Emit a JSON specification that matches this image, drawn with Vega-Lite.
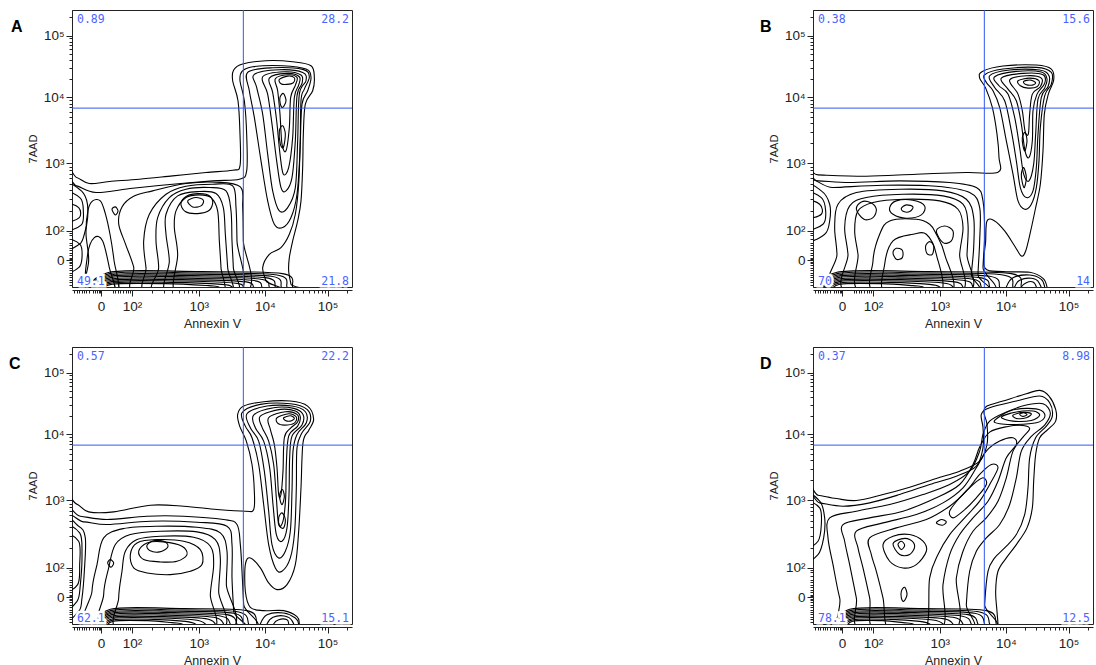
{
"$schema": "https://vega.github.io/schema/vega-lite/v6.json",
"padding": {"left": 8, "top": 9, "right": 0, "bottom": 0},
"config": {
  "view": {"stroke": "#222", "strokeWidth": 1},
  "axis": {"grid": false, "domainColor": "#222", "tickColor": "#222", "labelColor": "#222", "titleColor": "#222", "labelFont": "Liberation Sans", "titleFont": "Liberation Sans", "labelFontSize": 13.5, "titleFontWeight": "normal", "labelOverlap": false, "labelFlush": false},
  "title": {"font": "Liberation Sans", "fontSize": 16, "fontWeight": "bold", "color": "#000"},
  "text": {"font": "DejaVu Sans Mono", "fontSize": 11.5, "color": "#4a63ff"}
},
"datasets": {
"gates": [
 {"p":"A","gx":514,"gy":536,"UL":"0.89","UR":"28.2","LL":"49.1","LR":"21.8"},
 {"p":"B","gx":514,"gy":536,"UL":"0.38","UR":"15.6","LL":"70","LR":"14"},
 {"p":"C","gx":514,"gy":536,"UL":"0.57","UR":"22.2","LL":"62.1","LR":"15.1"},
 {"p":"D","gx":514,"gy":536,"UL":"0.37","UR":"8.98","LL":"78.1","LR":"12.5"}
],
"A": [
{"c":1,"x":-18,"y":330},{"c":1,"x":14,"y":328},{"c":1,"x":52,"y":310},{"c":1,"x":112,"y":316},{"c":1,"x":202,"y":323},{"c":1,"x":302,"y":333},{"c":1,"x":402,"y":343},{"c":1,"x":482,"y":350},{"c":1,"x":504,"y":363},{"c":1,"x":504,"y":458},{"c":1,"x":498,"y":558},{"c":1,"x":482,"y":618},{"c":1,"x":485,"y":650},{"c":1,"x":512,"y":668},{"c":1,"x":582,"y":678},{"c":1,"x":662,"y":675},{"c":1,"x":717,"y":663},{"c":1,"x":727,"y":628},{"c":1,"x":722,"y":588},{"c":1,"x":700,"y":548},{"c":1,"x":694,"y":458},{"c":1,"x":692,"y":358},{"c":1,"x":687,"y":258},{"c":1,"x":677,"y":198},{"c":1,"x":662,"y":138},{"c":1,"x":652,"y":88},{"c":1,"x":650,"y":48},{"c":1,"x":657,"y":8},{"c":1,"x":662,"y":-17},{"c":1,"x":-18,"y":-17},
{"c":2,"x":-18,"y":303},{"c":2,"x":14,"y":303},{"c":2,"x":72,"y":283},{"c":2,"x":182,"y":296},{"c":2,"x":302,"y":308},{"c":2,"x":422,"y":318},{"c":2,"x":502,"y":323},{"c":2,"x":524,"y":348},{"c":2,"x":524,"y":458},{"c":2,"x":517,"y":558},{"c":2,"x":504,"y":618},{"c":2,"x":510,"y":646},{"c":2,"x":542,"y":660},{"c":2,"x":632,"y":663},{"c":2,"x":702,"y":653},{"c":2,"x":717,"y":628},{"c":2,"x":707,"y":588},{"c":2,"x":690,"y":548},{"c":2,"x":685,"y":438},{"c":2,"x":680,"y":308},{"c":2,"x":670,"y":218},{"c":2,"x":652,"y":158},{"c":2,"x":627,"y":118},{"c":2,"x":592,"y":98},{"c":2,"x":572,"y":58},{"c":2,"x":582,"y":18},{"c":2,"x":592,"y":-17},{"c":2,"x":-18,"y":-17},
{"c":3,"x":527,"y":643},{"c":3,"x":602,"y":657},{"c":3,"x":692,"y":652},{"c":3,"x":712,"y":630},{"c":3,"x":697,"y":593},{"c":3,"x":687,"y":558},{"c":3,"x":684,"y":408},{"c":3,"x":675,"y":278},{"c":3,"x":657,"y":208},{"c":3,"x":632,"y":178},{"c":3,"x":607,"y":188},{"c":3,"x":587,"y":258},{"c":3,"x":567,"y":378},{"c":3,"x":547,"y":508},{"c":3,"x":532,"y":588},
{"c":4,"x":547,"y":637},{"c":4,"x":622,"y":651},{"c":4,"x":692,"y":643},{"c":4,"x":702,"y":618},{"c":4,"x":682,"y":578},{"c":4,"x":677,"y":438},{"c":4,"x":670,"y":298},{"c":4,"x":647,"y":238},{"c":4,"x":622,"y":228},{"c":4,"x":602,"y":288},{"c":4,"x":587,"y":398},{"c":4,"x":572,"y":518},{"c":4,"x":554,"y":598},
{"c":5,"x":572,"y":630},{"c":5,"x":637,"y":645},{"c":5,"x":687,"y":635},{"c":5,"x":690,"y":610},{"c":5,"x":675,"y":573},{"c":5,"x":670,"y":438},{"c":5,"x":660,"y":328},{"c":5,"x":642,"y":288},{"c":5,"x":627,"y":298},{"c":5,"x":614,"y":378},{"c":5,"x":600,"y":488},{"c":5,"x":587,"y":578},
{"c":6,"x":592,"y":626},{"c":6,"x":644,"y":640},{"c":6,"x":682,"y":630},{"c":6,"x":680,"y":605},{"c":6,"x":667,"y":568},{"c":6,"x":662,"y":448},{"c":6,"x":650,"y":358},{"c":6,"x":634,"y":338},{"c":6,"x":624,"y":398},{"c":6,"x":614,"y":498},{"c":6,"x":602,"y":583},
{"c":7,"x":610,"y":624},{"c":7,"x":647,"y":636},{"c":7,"x":675,"y":628},{"c":7,"x":670,"y":604},{"c":7,"x":656,"y":568},{"c":7,"x":652,"y":478},{"c":7,"x":642,"y":408},{"c":7,"x":630,"y":428},{"c":7,"x":624,"y":518},{"c":7,"x":617,"y":588},
{"c":8,"x":622,"y":622},{"c":8,"x":647,"y":632},{"c":8,"x":667,"y":627},{"c":8,"x":664,"y":612},{"c":8,"x":644,"y":607},{"c":8,"x":627,"y":609},
{"c":9,"x":622,"y":468},{"c":9,"x":632,"y":483},{"c":9,"x":640,"y":458},{"c":9,"x":634,"y":418},{"c":9,"x":625,"y":428},
{"c":10,"x":624,"y":568},{"c":10,"x":634,"y":580},{"c":10,"x":642,"y":558},{"c":10,"x":632,"y":538},{"c":10,"x":625,"y":548},
{"c":11,"x":312,"y":-22},{"c":11,"x":317,"y":98},{"c":11,"x":307,"y":178},{"c":11,"x":312,"y":228},{"c":11,"x":342,"y":268},{"c":11,"x":382,"y":276},{"c":11,"x":417,"y":268},{"c":11,"x":437,"y":228},{"c":11,"x":442,"y":138},{"c":11,"x":447,"y":58},{"c":11,"x":450,"y":-22},
{"c":12,"x":287,"y":-22},{"c":12,"x":292,"y":78},{"c":12,"x":282,"y":158},{"c":12,"x":282,"y":218},{"c":12,"x":317,"y":273},{"c":12,"x":382,"y":286},{"c":12,"x":432,"y":280},{"c":12,"x":454,"y":238},{"c":12,"x":460,"y":158},{"c":12,"x":467,"y":58},{"c":12,"x":472,"y":-22},
{"c":13,"x":252,"y":-22},{"c":13,"x":260,"y":58},{"c":13,"x":252,"y":138},{"c":13,"x":257,"y":208},{"c":13,"x":292,"y":268},{"c":13,"x":342,"y":293},{"c":13,"x":412,"y":298},{"c":13,"x":462,"y":288},{"c":13,"x":477,"y":228},{"c":13,"x":480,"y":138},{"c":13,"x":484,"y":58},{"c":13,"x":486,"y":-22},
{"c":14,"x":232,"y":-22},{"c":14,"x":222,"y":58},{"c":14,"x":215,"y":138},{"c":14,"x":232,"y":218},{"c":14,"x":282,"y":278},{"c":14,"x":342,"y":302},{"c":14,"x":422,"y":308},{"c":14,"x":482,"y":303},{"c":14,"x":492,"y":238},{"c":14,"x":495,"y":138},{"c":14,"x":498,"y":-22},
{"c":15,"x":200,"y":-22},{"c":15,"x":185,"y":60},{"c":15,"x":160,"y":130},{"c":15,"x":140,"y":190},{"c":15,"x":150,"y":240},{"c":15,"x":185,"y":272},{"c":15,"x":242,"y":288},{"c":15,"x":342,"y":310},{"c":15,"x":432,"y":314},{"c":15,"x":505,"y":300},{"c":15,"x":512,"y":238},{"c":15,"x":514,"y":138},{"c":15,"x":516,"y":-22},
{"c":16,"x":347,"y":258},{"c":16,"x":372,"y":268},{"c":16,"x":394,"y":260},{"c":16,"x":387,"y":243},{"c":16,"x":362,"y":240},
{"c":17,"x":327,"y":253},{"c":17,"x":352,"y":276},{"c":17,"x":402,"y":278},{"c":17,"x":422,"y":258},{"c":17,"x":412,"y":230},{"c":17,"x":377,"y":220},{"c":17,"x":340,"y":226},
{"c":18,"x":44,"y":-22},{"c":18,"x":47,"y":98},{"c":18,"x":67,"y":148},{"c":18,"x":92,"y":138},{"c":18,"x":112,"y":58},{"c":18,"x":127,"y":-22},
{"c":19,"x":120,"y":233},{"c":19,"x":130,"y":240},{"c":19,"x":138,"y":228},{"c":19,"x":130,"y":216},
{"c":20,"x":-18,"y":298},{"c":20,"x":22,"y":293},{"c":20,"x":44,"y":260},{"c":20,"x":47,"y":208},{"c":20,"x":37,"y":158},{"c":20,"x":22,"y":128},{"c":20,"x":-18,"y":128},
{"c":21,"x":-18,"y":278},{"c":21,"x":25,"y":266},{"c":21,"x":34,"y":228},{"c":21,"x":28,"y":186},{"c":21,"x":-18,"y":178},
{"c":22,"x":-18,"y":248},{"c":22,"x":20,"y":238},{"c":22,"x":22,"y":208},{"c":22,"x":-18,"y":198},
{"c":23,"x":-18,"y":138},{"c":23,"x":24,"y":128},{"c":23,"x":30,"y":88},{"c":23,"x":20,"y":58},{"c":23,"x":-18,"y":48},
{"c":29,"x":40,"y":-22},{"c":29,"x":50,"y":80},{"c":29,"x":42,"y":160},{"c":29,"x":48,"y":230},{"c":29,"x":62,"y":258},{"c":29,"x":85,"y":258},{"c":29,"x":100,"y":220},{"c":29,"x":114,"y":158},{"c":29,"x":126,"y":80},{"c":29,"x":136,"y":-22},
{"c":40,"x":112,"y":44},{"c":40,"x":387,"y":46},{"c":40,"x":632,"y":40},{"c":40,"x":662,"y":0},{"c":40,"x":662,"y":-17},{"c":40,"x":112,"y":-17},
{"c":41,"x":113,"y":40},{"c":41,"x":379,"y":42},{"c":41,"x":615,"y":36},{"c":41,"x":645,"y":0},{"c":41,"x":645,"y":-17},{"c":41,"x":113,"y":-17},
{"c":42,"x":114,"y":36},{"c":42,"x":371,"y":38},{"c":42,"x":598,"y":32},{"c":42,"x":628,"y":0},{"c":42,"x":628,"y":-17},{"c":42,"x":114,"y":-17},
{"c":43,"x":115,"y":32},{"c":43,"x":362,"y":34},{"c":43,"x":580,"y":28},{"c":43,"x":610,"y":0},{"c":43,"x":610,"y":-17},{"c":43,"x":115,"y":-17},
{"c":44,"x":116,"y":28},{"c":44,"x":354,"y":30},{"c":44,"x":562,"y":24},{"c":44,"x":592,"y":0},{"c":44,"x":592,"y":-17},{"c":44,"x":116,"y":-17},
{"c":45,"x":117,"y":24},{"c":45,"x":343,"y":26},{"c":45,"x":540,"y":20},{"c":45,"x":570,"y":0},{"c":45,"x":570,"y":-17},{"c":45,"x":117,"y":-17},
{"c":46,"x":118,"y":20},{"c":46,"x":331,"y":22},{"c":46,"x":515,"y":16},{"c":46,"x":545,"y":0},{"c":46,"x":545,"y":-17},{"c":46,"x":118,"y":-17},
{"c":47,"x":119,"y":16},{"c":47,"x":317,"y":18},{"c":47,"x":485,"y":12},{"c":47,"x":515,"y":0},{"c":47,"x":515,"y":-17},{"c":47,"x":119,"y":-17},
{"c":48,"x":120,"y":12},{"c":48,"x":300,"y":14},{"c":48,"x":450,"y":8},{"c":48,"x":480,"y":0},{"c":48,"x":480,"y":-17},{"c":48,"x":120,"y":-17},
{"c":49,"x":121,"y":8},{"c":49,"x":280,"y":10},{"c":49,"x":410,"y":4},{"c":49,"x":440,"y":0},{"c":49,"x":440,"y":-17},{"c":49,"x":121,"y":-17}
],
"B": [
{"c":1,"x":-20,"y":338},{"c":1,"x":15,"y":336},{"c":1,"x":160,"y":332},{"c":1,"x":310,"y":338},{"c":1,"x":460,"y":343},{"c":1,"x":555,"y":344},{"c":1,"x":558,"y":388},{"c":1,"x":552,"y":458},{"c":1,"x":538,"y":538},{"c":1,"x":518,"y":596},{"c":1,"x":500,"y":626},{"c":1,"x":508,"y":646},{"c":1,"x":570,"y":662},{"c":1,"x":670,"y":665},{"c":1,"x":715,"y":653},{"c":1,"x":722,"y":620},{"c":1,"x":706,"y":578},{"c":1,"x":694,"y":518},{"c":1,"x":690,"y":408},{"c":1,"x":682,"y":308},{"c":1,"x":668,"y":238},{"c":1,"x":653,"y":168},{"c":1,"x":638,"y":108},{"c":1,"x":625,"y":93},{"c":1,"x":605,"y":123},{"c":1,"x":575,"y":168},{"c":1,"x":545,"y":198},{"c":1,"x":522,"y":198},{"c":1,"x":518,"y":138},{"c":1,"x":515,"y":58},{"c":1,"x":570,"y":46},{"c":1,"x":650,"y":44},{"c":1,"x":690,"y":26},{"c":1,"x":702,"y":0},{"c":1,"x":702,"y":-22},{"c":1,"x":-20,"y":-22},
{"c":2,"x":515,"y":636},{"c":2,"x":570,"y":653},{"c":2,"x":670,"y":658},{"c":2,"x":715,"y":643},{"c":2,"x":715,"y":608},{"c":2,"x":695,"y":573},{"c":2,"x":682,"y":478},{"c":2,"x":678,"y":378},{"c":2,"x":670,"y":298},{"c":2,"x":655,"y":248},{"c":2,"x":635,"y":233},{"c":2,"x":615,"y":258},{"c":2,"x":600,"y":338},{"c":2,"x":580,"y":438},{"c":2,"x":560,"y":538},{"c":2,"x":540,"y":588},{"c":2,"x":520,"y":613},
{"c":3,"x":530,"y":633},{"c":3,"x":590,"y":650},{"c":3,"x":680,"y":650},{"c":3,"x":708,"y":633},{"c":3,"x":705,"y":600},{"c":3,"x":685,"y":568},{"c":3,"x":675,"y":458},{"c":3,"x":670,"y":358},{"c":3,"x":660,"y":288},{"c":3,"x":640,"y":268},{"c":3,"x":622,"y":298},{"c":3,"x":610,"y":378},{"c":3,"x":595,"y":468},{"c":3,"x":575,"y":558},{"c":3,"x":545,"y":598},
{"c":4,"x":545,"y":630},{"c":4,"x":610,"y":646},{"c":4,"x":685,"y":644},{"c":4,"x":702,"y":623},{"c":4,"x":695,"y":596},{"c":4,"x":675,"y":563},{"c":4,"x":668,"y":458},{"c":4,"x":662,"y":368},{"c":4,"x":648,"y":318},{"c":4,"x":632,"y":338},{"c":4,"x":620,"y":418},{"c":4,"x":605,"y":508},{"c":4,"x":585,"y":578},{"c":4,"x":558,"y":603},
{"c":5,"x":565,"y":626},{"c":5,"x":630,"y":640},{"c":5,"x":690,"y":636},{"c":5,"x":695,"y":610},{"c":5,"x":672,"y":578},{"c":5,"x":660,"y":528},{"c":5,"x":658,"y":438},{"c":5,"x":648,"y":388},{"c":5,"x":636,"y":408},{"c":5,"x":625,"y":488},{"c":5,"x":610,"y":558},{"c":5,"x":585,"y":593},
{"c":6,"x":590,"y":620},{"c":6,"x":640,"y":633},{"c":6,"x":685,"y":626},{"c":6,"x":682,"y":600},{"c":6,"x":658,"y":578},{"c":6,"x":650,"y":518},{"c":6,"x":646,"y":458},{"c":6,"x":636,"y":468},{"c":6,"x":628,"y":528},{"c":6,"x":615,"y":578},
{"c":7,"x":615,"y":618},{"c":7,"x":650,"y":626},{"c":7,"x":678,"y":618},{"c":7,"x":672,"y":600},{"c":7,"x":645,"y":596},{"c":7,"x":622,"y":603},
{"c":8,"x":632,"y":616},{"c":8,"x":653,"y":620},{"c":8,"x":668,"y":612},{"c":8,"x":658,"y":605},{"c":8,"x":638,"y":607},
{"c":9,"x":628,"y":448},{"c":9,"x":636,"y":463},{"c":9,"x":642,"y":438},{"c":9,"x":636,"y":408},{"c":9,"x":630,"y":423},
{"c":10,"x":625,"y":338},{"c":10,"x":632,"y":358},{"c":10,"x":640,"y":328},{"c":10,"x":634,"y":298},{"c":10,"x":628,"y":313},
{"c":11,"x":-20,"y":313},{"c":11,"x":15,"y":318},{"c":11,"x":110,"y":313},{"c":11,"x":260,"y":318},{"c":11,"x":410,"y":313},{"c":11,"x":490,"y":298},{"c":11,"x":510,"y":258},{"c":11,"x":515,"y":158},{"c":11,"x":510,"y":58},{"c":11,"x":510,"y":-22},{"c":11,"x":-20,"y":-22},
{"c":12,"x":-20,"y":298},{"c":12,"x":60,"y":298},{"c":12,"x":210,"y":305},{"c":12,"x":370,"y":302},{"c":12,"x":470,"y":283},{"c":12,"x":500,"y":238},{"c":12,"x":500,"y":138},{"c":12,"x":495,"y":38},{"c":12,"x":495,"y":-22},{"c":12,"x":-20,"y":-22},
{"c":13,"x":72,"y":-22},{"c":13,"x":72,"y":98},{"c":13,"x":65,"y":178},{"c":13,"x":75,"y":248},{"c":13,"x":130,"y":283},{"c":13,"x":260,"y":293},{"c":13,"x":390,"y":288},{"c":13,"x":460,"y":263},{"c":13,"x":482,"y":208},{"c":13,"x":482,"y":118},{"c":13,"x":475,"y":38},{"c":13,"x":472,"y":-22},
{"c":14,"x":110,"y":-22},{"c":14,"x":105,"y":98},{"c":14,"x":95,"y":178},{"c":14,"x":110,"y":243},{"c":14,"x":160,"y":268},{"c":14,"x":270,"y":278},{"c":14,"x":390,"y":273},{"c":14,"x":450,"y":248},{"c":14,"x":465,"y":188},{"c":14,"x":462,"y":98},{"c":14,"x":455,"y":-22},
{"c":15,"x":150,"y":-22},{"c":15,"x":135,"y":98},{"c":15,"x":125,"y":168},{"c":15,"x":135,"y":228},{"c":15,"x":180,"y":253},{"c":15,"x":270,"y":263},{"c":15,"x":380,"y":258},{"c":15,"x":435,"y":233},{"c":15,"x":450,"y":178},{"c":15,"x":440,"y":98},{"c":15,"x":435,"y":-22},
{"c":16,"x":130,"y":233},{"c":16,"x":145,"y":255},{"c":16,"x":172,"y":253},{"c":16,"x":190,"y":233},{"c":16,"x":180,"y":208},{"c":16,"x":153,"y":203},
{"c":17,"x":230,"y":238},{"c":17,"x":250,"y":258},{"c":17,"x":300,"y":260},{"c":17,"x":335,"y":243},{"c":17,"x":325,"y":216},{"c":17,"x":280,"y":206},{"c":17,"x":240,"y":218},
{"c":18,"x":265,"y":236},{"c":18,"x":280,"y":246},{"c":18,"x":300,"y":240},{"c":18,"x":290,"y":226},{"c":18,"x":272,"y":226},
{"c":19,"x":240,"y":103},{"c":19,"x":250,"y":116},{"c":19,"x":268,"y":110},{"c":19,"x":268,"y":88},{"c":19,"x":250,"y":83},
{"c":20,"x":338,"y":123},{"c":20,"x":350,"y":136},{"c":20,"x":362,"y":123},{"c":20,"x":358,"y":98},{"c":20,"x":342,"y":100},
{"c":21,"x":370,"y":168},{"c":21,"x":395,"y":183},{"c":21,"x":420,"y":168},{"c":21,"x":415,"y":138},{"c":21,"x":390,"y":133},
{"c":22,"x":190,"y":-22},{"c":22,"x":180,"y":78},{"c":22,"x":200,"y":158},{"c":22,"x":230,"y":198},{"c":22,"x":310,"y":203},{"c":22,"x":350,"y":188},{"c":22,"x":370,"y":158},{"c":22,"x":395,"y":98},{"c":22,"x":410,"y":-22},
{"c":23,"x":220,"y":-22},{"c":23,"x":215,"y":68},{"c":23,"x":240,"y":138},{"c":23,"x":300,"y":158},{"c":23,"x":340,"y":158},{"c":23,"x":370,"y":98},{"c":23,"x":380,"y":-22},
{"c":24,"x":-20,"y":298},{"c":24,"x":25,"y":288},{"c":24,"x":50,"y":248},{"c":24,"x":50,"y":198},{"c":24,"x":35,"y":158},{"c":24,"x":-20,"y":148},
{"c":25,"x":-20,"y":278},{"c":25,"x":25,"y":268},{"c":25,"x":38,"y":228},{"c":25,"x":30,"y":188},{"c":25,"x":-20,"y":178},
{"c":26,"x":-20,"y":258},{"c":26,"x":20,"y":248},{"c":26,"x":25,"y":218},{"c":26,"x":-20,"y":208},
{"c":32,"x":580,"y":0},{"c":32,"x":600,"y":28},{"c":32,"x":650,"y":36},{"c":32,"x":685,"y":23},{"c":32,"x":695,"y":0},{"c":32,"x":695,"y":-22},{"c":32,"x":580,"y":-22},
{"c":33,"x":605,"y":0},{"c":33,"x":620,"y":20},{"c":33,"x":655,"y":26},{"c":33,"x":678,"y":13},{"c":33,"x":682,"y":-22},{"c":33,"x":605,"y":-22},
{"c":34,"x":625,"y":0},{"c":34,"x":640,"y":13},{"c":34,"x":660,"y":15},{"c":34,"x":670,"y":0},{"c":34,"x":670,"y":-22},{"c":34,"x":625,"y":-22},
{"c":40,"x":72,"y":44},{"c":40,"x":348,"y":46},{"c":40,"x":595,"y":40},{"c":40,"x":625,"y":0},{"c":40,"x":625,"y":-17},{"c":40,"x":72,"y":-17},
{"c":41,"x":73,"y":40},{"c":41,"x":336,"y":42},{"c":41,"x":570,"y":36},{"c":41,"x":600,"y":0},{"c":41,"x":600,"y":-17},{"c":41,"x":73,"y":-17},
{"c":42,"x":74,"y":36},{"c":42,"x":317,"y":38},{"c":42,"x":530,"y":32},{"c":42,"x":560,"y":0},{"c":42,"x":560,"y":-17},{"c":42,"x":74,"y":-17},
{"c":43,"x":75,"y":32},{"c":43,"x":302,"y":34},{"c":43,"x":500,"y":28},{"c":43,"x":530,"y":0},{"c":43,"x":530,"y":-17},{"c":43,"x":75,"y":-17},
{"c":44,"x":76,"y":28},{"c":44,"x":290,"y":30},{"c":44,"x":475,"y":24},{"c":44,"x":505,"y":0},{"c":44,"x":505,"y":-17},{"c":44,"x":76,"y":-17},
{"c":45,"x":77,"y":24},{"c":45,"x":278,"y":26},{"c":45,"x":450,"y":20},{"c":45,"x":480,"y":0},{"c":45,"x":480,"y":-17},{"c":45,"x":77,"y":-17},
{"c":46,"x":78,"y":20},{"c":46,"x":264,"y":22},{"c":46,"x":420,"y":16},{"c":46,"x":450,"y":0},{"c":46,"x":450,"y":-17},{"c":46,"x":78,"y":-17},
{"c":47,"x":79,"y":16},{"c":47,"x":249,"y":18},{"c":47,"x":390,"y":12},{"c":47,"x":420,"y":0},{"c":47,"x":420,"y":-17},{"c":47,"x":79,"y":-17},
{"c":48,"x":80,"y":12},{"c":48,"x":230,"y":14},{"c":48,"x":350,"y":8},{"c":48,"x":380,"y":0},{"c":48,"x":380,"y":-17},{"c":48,"x":80,"y":-17},
{"c":49,"x":81,"y":8},{"c":49,"x":205,"y":10},{"c":49,"x":300,"y":4},{"c":49,"x":330,"y":0},{"c":49,"x":330,"y":-17},{"c":49,"x":81,"y":-17}
],
"C": [
{"c":1,"x":-25,"y":358},{"c":1,"x":13,"y":360},{"c":1,"x":50,"y":336},{"c":1,"x":125,"y":336},{"c":1,"x":235,"y":356},{"c":1,"x":335,"y":353},{"c":1,"x":435,"y":343},{"c":1,"x":520,"y":338},{"c":1,"x":545,"y":343},{"c":1,"x":547,"y":398},{"c":1,"x":540,"y":478},{"c":1,"x":523,"y":548},{"c":1,"x":503,"y":593},{"c":1,"x":497,"y":628},{"c":1,"x":515,"y":653},{"c":1,"x":575,"y":666},{"c":1,"x":655,"y":668},{"c":1,"x":707,"y":653},{"c":1,"x":725,"y":613},{"c":1,"x":710,"y":580},{"c":1,"x":693,"y":543},{"c":1,"x":687,"y":408},{"c":1,"x":680,"y":278},{"c":1,"x":670,"y":178},{"c":1,"x":645,"y":118},{"c":1,"x":615,"y":103},{"c":1,"x":590,"y":123},{"c":1,"x":565,"y":168},{"c":1,"x":535,"y":198},{"c":1,"x":520,"y":178},{"c":1,"x":520,"y":98},{"c":1,"x":535,"y":50},{"c":1,"x":575,"y":40},{"c":1,"x":635,"y":40},{"c":1,"x":675,"y":22},{"c":1,"x":682,"y":0},{"c":1,"x":682,"y":-22},{"c":1,"x":-25,"y":-22},
{"c":2,"x":510,"y":633},{"c":2,"x":565,"y":658},{"c":2,"x":655,"y":660},{"c":2,"x":705,"y":643},{"c":2,"x":715,"y":608},{"c":2,"x":690,"y":573},{"c":2,"x":675,"y":528},{"c":2,"x":673,"y":408},{"c":2,"x":668,"y":278},{"c":2,"x":655,"y":198},{"c":2,"x":630,"y":158},{"c":2,"x":610,"y":168},{"c":2,"x":590,"y":238},{"c":2,"x":575,"y":358},{"c":2,"x":560,"y":478},{"c":2,"x":540,"y":558},{"c":2,"x":520,"y":593},
{"c":3,"x":525,"y":630},{"c":3,"x":585,"y":653},{"c":3,"x":660,"y":653},{"c":3,"x":700,"y":636},{"c":3,"x":703,"y":603},{"c":3,"x":675,"y":568},{"c":3,"x":663,"y":518},{"c":3,"x":660,"y":398},{"c":3,"x":655,"y":278},{"c":3,"x":640,"y":218},{"c":3,"x":620,"y":198},{"c":3,"x":600,"y":238},{"c":3,"x":590,"y":338},{"c":3,"x":577,"y":458},{"c":3,"x":560,"y":548},{"c":3,"x":535,"y":588},
{"c":4,"x":545,"y":626},{"c":4,"x":605,"y":648},{"c":4,"x":665,"y":646},{"c":4,"x":693,"y":628},{"c":4,"x":690,"y":596},{"c":4,"x":660,"y":563},{"c":4,"x":653,"y":498},{"c":4,"x":651,"y":388},{"c":4,"x":645,"y":288},{"c":4,"x":630,"y":248},{"c":4,"x":613,"y":268},{"c":4,"x":603,"y":358},{"c":4,"x":593,"y":468},{"c":4,"x":575,"y":548},{"c":4,"x":550,"y":588},
{"c":5,"x":565,"y":623},{"c":5,"x":625,"y":643},{"c":5,"x":670,"y":638},{"c":5,"x":685,"y":620},{"c":5,"x":677,"y":593},{"c":5,"x":650,"y":563},{"c":5,"x":643,"y":478},{"c":5,"x":641,"y":378},{"c":5,"x":633,"y":308},{"c":5,"x":620,"y":298},{"c":5,"x":613,"y":378},{"c":5,"x":605,"y":478},{"c":5,"x":590,"y":548},{"c":5,"x":570,"y":590},
{"c":6,"x":590,"y":618},{"c":6,"x":640,"y":636},{"c":6,"x":675,"y":628},{"c":6,"x":677,"y":606},{"c":6,"x":655,"y":586},{"c":6,"x":637,"y":558},{"c":6,"x":633,"y":458},{"c":6,"x":627,"y":388},{"c":6,"x":620,"y":388},{"c":6,"x":615,"y":468},{"c":6,"x":607,"y":538},{"c":6,"x":595,"y":583},
{"c":7,"x":615,"y":618},{"c":7,"x":650,"y":630},{"c":7,"x":673,"y":620},{"c":7,"x":667,"y":602},{"c":7,"x":637,"y":596},{"c":7,"x":617,"y":602},
{"c":8,"x":635,"y":618},{"c":8,"x":655,"y":624},{"c":8,"x":667,"y":616},{"c":8,"x":655,"y":608},{"c":8,"x":640,"y":610},
{"c":9,"x":620,"y":318},{"c":9,"x":630,"y":333},{"c":9,"x":640,"y":313},{"c":9,"x":635,"y":288},{"c":9,"x":623,"y":293},
{"c":10,"x":623,"y":388},{"c":10,"x":631,"y":403},{"c":10,"x":637,"y":383},{"c":10,"x":631,"y":358},{"c":10,"x":625,"y":368},
{"c":11,"x":-25,"y":328},{"c":11,"x":25,"y":323},{"c":11,"x":105,"y":313},{"c":11,"x":225,"y":323},{"c":11,"x":335,"y":323},{"c":11,"x":455,"y":313},{"c":11,"x":495,"y":298},{"c":11,"x":505,"y":238},{"c":11,"x":510,"y":158},{"c":11,"x":515,"y":58},{"c":11,"x":520,"y":-22},{"c":11,"x":-25,"y":-22},
{"c":12,"x":-25,"y":303},{"c":12,"x":35,"y":306},{"c":12,"x":105,"y":298},{"c":12,"x":235,"y":308},{"c":12,"x":375,"y":305},{"c":12,"x":465,"y":293},{"c":12,"x":480,"y":238},{"c":12,"x":480,"y":138},{"c":12,"x":485,"y":38},{"c":12,"x":487,"y":-22},{"c":12,"x":-25,"y":-22},
{"c":13,"x":65,"y":-22},{"c":13,"x":60,"y":98},{"c":13,"x":75,"y":178},{"c":13,"x":95,"y":258},{"c":13,"x":155,"y":286},{"c":13,"x":255,"y":293},{"c":13,"x":375,"y":290},{"c":13,"x":445,"y":273},{"c":13,"x":465,"y":218},{"c":13,"x":463,"y":118},{"c":13,"x":465,"y":-22},
{"c":14,"x":105,"y":-22},{"c":14,"x":95,"y":88},{"c":14,"x":110,"y":168},{"c":14,"x":130,"y":238},{"c":14,"x":175,"y":268},{"c":14,"x":265,"y":278},{"c":14,"x":375,"y":276},{"c":14,"x":430,"y":253},{"c":14,"x":445,"y":198},{"c":14,"x":440,"y":98},{"c":14,"x":440,"y":-22},
{"c":15,"x":145,"y":-22},{"c":15,"x":140,"y":78},{"c":15,"x":150,"y":158},{"c":15,"x":160,"y":218},{"c":15,"x":195,"y":253},{"c":15,"x":265,"y":263},{"c":15,"x":365,"y":260},{"c":15,"x":415,"y":233},{"c":15,"x":425,"y":178},{"c":15,"x":415,"y":88},{"c":15,"x":415,"y":-22},
{"c":16,"x":175,"y":208},{"c":16,"x":195,"y":243},{"c":16,"x":255,"y":253},{"c":16,"x":335,"y":248},{"c":16,"x":385,"y":223},{"c":16,"x":390,"y":178},{"c":16,"x":355,"y":158},{"c":16,"x":295,"y":148},{"c":16,"x":225,"y":153},{"c":16,"x":185,"y":168},
{"c":17,"x":200,"y":218},{"c":17,"x":225,"y":243},{"c":17,"x":275,"y":246},{"c":17,"x":330,"y":233},{"c":17,"x":345,"y":208},{"c":17,"x":315,"y":188},{"c":17,"x":265,"y":186},{"c":17,"x":215,"y":193},
{"c":18,"x":225,"y":236},{"c":18,"x":247,"y":250},{"c":18,"x":280,"y":246},{"c":18,"x":287,"y":230},{"c":18,"x":263,"y":216},{"c":18,"x":233,"y":220},
{"c":19,"x":107,"y":183},{"c":19,"x":115,"y":193},{"c":19,"x":125,"y":183},{"c":19,"x":117,"y":170},
{"c":20,"x":-25,"y":298},{"c":20,"x":20,"y":293},{"c":20,"x":40,"y":258},{"c":20,"x":37,"y":158},{"c":20,"x":30,"y":78},{"c":20,"x":20,"y":38},{"c":20,"x":-25,"y":28},
{"c":21,"x":-25,"y":278},{"c":21,"x":23,"y":273},{"c":21,"x":30,"y":208},{"c":21,"x":25,"y":118},{"c":21,"x":15,"y":68},{"c":21,"x":-25,"y":58},
{"c":22,"x":-25,"y":258},{"c":22,"x":20,"y":248},{"c":22,"x":23,"y":178},{"c":22,"x":17,"y":118},{"c":22,"x":-25,"y":108},
{"c":28,"x":565,"y":0},{"c":28,"x":585,"y":28},{"c":28,"x":635,"y":33},{"c":28,"x":670,"y":18},{"c":28,"x":680,"y":0},{"c":28,"x":680,"y":-22},{"c":28,"x":565,"y":-22},
{"c":29,"x":585,"y":0},{"c":29,"x":603,"y":20},{"c":29,"x":637,"y":24},{"c":29,"x":660,"y":10},{"c":29,"x":663,"y":-22},{"c":29,"x":585,"y":-22},
{"c":30,"x":605,"y":0},{"c":30,"x":620,"y":13},{"c":30,"x":645,"y":13},{"c":30,"x":650,"y":0},{"c":30,"x":650,"y":-22},{"c":30,"x":605,"y":-22},
{"c":40,"x":115,"y":44},{"c":40,"x":335,"y":46},{"c":40,"x":525,"y":40},{"c":40,"x":555,"y":0},{"c":40,"x":555,"y":-17},{"c":40,"x":115,"y":-17},
{"c":41,"x":116,"y":40},{"c":41,"x":323,"y":42},{"c":41,"x":500,"y":36},{"c":41,"x":530,"y":0},{"c":41,"x":530,"y":-17},{"c":41,"x":116,"y":-17},
{"c":42,"x":117,"y":36},{"c":42,"x":316,"y":38},{"c":42,"x":485,"y":32},{"c":42,"x":515,"y":0},{"c":42,"x":515,"y":-17},{"c":42,"x":117,"y":-17},
{"c":43,"x":118,"y":32},{"c":43,"x":306,"y":34},{"c":43,"x":465,"y":28},{"c":43,"x":495,"y":0},{"c":43,"x":495,"y":-17},{"c":43,"x":118,"y":-17},
{"c":44,"x":119,"y":28},{"c":44,"x":297,"y":30},{"c":44,"x":445,"y":24},{"c":44,"x":475,"y":0},{"c":44,"x":475,"y":-17},{"c":44,"x":119,"y":-17},
{"c":45,"x":120,"y":24},{"c":45,"x":287,"y":26},{"c":45,"x":425,"y":20},{"c":45,"x":455,"y":0},{"c":45,"x":455,"y":-17},{"c":45,"x":120,"y":-17},
{"c":46,"x":121,"y":20},{"c":46,"x":275,"y":22},{"c":46,"x":400,"y":16},{"c":46,"x":430,"y":0},{"c":46,"x":430,"y":-17},{"c":46,"x":121,"y":-17},
{"c":47,"x":122,"y":16},{"c":47,"x":261,"y":18},{"c":47,"x":370,"y":12},{"c":47,"x":400,"y":0},{"c":47,"x":400,"y":-17},{"c":47,"x":122,"y":-17},
{"c":48,"x":123,"y":12},{"c":48,"x":246,"y":14},{"c":48,"x":340,"y":8},{"c":48,"x":370,"y":0},{"c":48,"x":370,"y":-17},{"c":48,"x":123,"y":-17},
{"c":49,"x":124,"y":8},{"c":49,"x":227,"y":10},{"c":49,"x":300,"y":4},{"c":49,"x":330,"y":0},{"c":49,"x":330,"y":-17},{"c":49,"x":124,"y":-17}
],
"D": [
{"c":1,"x":-20,"y":388},{"c":1,"x":15,"y":386},{"c":1,"x":70,"y":376},{"c":1,"x":130,"y":370},{"c":1,"x":210,"y":388},{"c":1,"x":290,"y":410},{"c":1,"x":370,"y":436},{"c":1,"x":440,"y":458},{"c":1,"x":500,"y":488},{"c":1,"x":522,"y":538},{"c":1,"x":522,"y":598},{"c":1,"x":513,"y":633},{"c":1,"x":522,"y":653},{"c":1,"x":570,"y":668},{"c":1,"x":640,"y":690},{"c":1,"x":680,"y":700},{"c":1,"x":708,"y":683},{"c":1,"x":728,"y":643},{"c":1,"x":728,"y":608},{"c":1,"x":705,"y":583},{"c":1,"x":680,"y":558},{"c":1,"x":668,"y":508},{"c":1,"x":662,"y":428},{"c":1,"x":658,"y":348},{"c":1,"x":642,"y":288},{"c":1,"x":610,"y":238},{"c":1,"x":580,"y":198},{"c":1,"x":555,"y":158},{"c":1,"x":548,"y":98},{"c":1,"x":552,"y":38},{"c":1,"x":555,"y":0},{"c":1,"x":555,"y":-22},{"c":1,"x":-20,"y":-22},
{"c":2,"x":-20,"y":368},{"c":2,"x":20,"y":363},{"c":2,"x":90,"y":353},{"c":2,"x":170,"y":363},{"c":2,"x":260,"y":388},{"c":2,"x":350,"y":418},{"c":2,"x":430,"y":443},{"c":2,"x":490,"y":473},{"c":2,"x":510,"y":528},{"c":2,"x":510,"y":588},{"c":2,"x":505,"y":628},{"c":2,"x":530,"y":648},{"c":2,"x":610,"y":668},{"c":2,"x":680,"y":683},{"c":2,"x":710,"y":663},{"c":2,"x":718,"y":623},{"c":2,"x":700,"y":593},{"c":2,"x":668,"y":558},{"c":2,"x":650,"y":498},{"c":2,"x":645,"y":408},{"c":2,"x":635,"y":328},{"c":2,"x":610,"y":268},{"c":2,"x":575,"y":228},{"c":2,"x":545,"y":198},{"c":2,"x":525,"y":158},{"c":2,"x":515,"y":58},{"c":2,"x":515,"y":-22},{"c":2,"x":-20,"y":-22},
{"c":3,"x":50,"y":318},{"c":3,"x":130,"y":338},{"c":3,"x":230,"y":358},{"c":3,"x":330,"y":388},{"c":3,"x":410,"y":418},{"c":3,"x":470,"y":458},{"c":3,"x":500,"y":518},{"c":3,"x":510,"y":568},{"c":3,"x":530,"y":608},{"c":3,"x":580,"y":635},{"c":3,"x":640,"y":656},{"c":3,"x":690,"y":660},{"c":3,"x":712,"y":632},{"c":3,"x":695,"y":596},{"c":3,"x":655,"y":562},{"c":3,"x":625,"y":518},{"c":3,"x":610,"y":438},{"c":3,"x":590,"y":358},{"c":3,"x":560,"y":298},{"c":3,"x":520,"y":258},{"c":3,"x":490,"y":218},{"c":3,"x":470,"y":158},{"c":3,"x":460,"y":58},{"c":3,"x":460,"y":-22},{"c":3,"x":110,"y":-22},{"c":3,"x":80,"y":78},{"c":3,"x":60,"y":178},{"c":3,"x":45,"y":258},
{"c":4,"x":90,"y":298},{"c":4,"x":170,"y":318},{"c":4,"x":270,"y":338},{"c":4,"x":370,"y":378},{"c":4,"x":440,"y":418},{"c":4,"x":480,"y":478},{"c":4,"x":500,"y":530},{"c":4,"x":530,"y":575},{"c":4,"x":585,"y":592},{"c":4,"x":630,"y":595},{"c":4,"x":650,"y":585},{"c":4,"x":630,"y":560},{"c":4,"x":600,"y":518},{"c":4,"x":580,"y":438},{"c":4,"x":555,"y":368},{"c":4,"x":520,"y":318},{"c":4,"x":480,"y":278},{"c":4,"x":450,"y":218},{"c":4,"x":430,"y":138},{"c":4,"x":420,"y":-22},{"c":4,"x":150,"y":-22},{"c":4,"x":130,"y":78},{"c":4,"x":110,"y":178},{"c":4,"x":95,"y":248},
{"c":5,"x":130,"y":278},{"c":5,"x":210,"y":303},{"c":5,"x":310,"y":328},{"c":5,"x":390,"y":363},{"c":5,"x":450,"y":408},{"c":5,"x":490,"y":468},{"c":5,"x":520,"y":518},{"c":5,"x":560,"y":548},{"c":5,"x":600,"y":558},{"c":5,"x":610,"y":538},{"c":5,"x":580,"y":498},{"c":5,"x":555,"y":428},{"c":5,"x":525,"y":368},{"c":5,"x":480,"y":318},{"c":5,"x":440,"y":268},{"c":5,"x":410,"y":208},{"c":5,"x":390,"y":118},{"c":5,"x":380,"y":-22},{"c":5,"x":190,"y":-22},{"c":5,"x":170,"y":78},{"c":5,"x":150,"y":168},{"c":5,"x":135,"y":228},
{"c":6,"x":170,"y":258},{"c":6,"x":250,"y":288},{"c":6,"x":340,"y":313},{"c":6,"x":410,"y":353},{"c":6,"x":460,"y":398},{"c":6,"x":500,"y":448},{"c":6,"x":535,"y":478},{"c":6,"x":555,"y":468},{"c":6,"x":530,"y":418},{"c":6,"x":500,"y":368},{"c":6,"x":455,"y":318},{"c":6,"x":410,"y":268},{"c":6,"x":375,"y":208},{"c":6,"x":350,"y":138},{"c":6,"x":335,"y":-22},{"c":6,"x":230,"y":-22},{"c":6,"x":210,"y":78},{"c":6,"x":190,"y":158},{"c":6,"x":175,"y":208},
{"c":7,"x":210,"y":238},{"c":7,"x":240,"y":263},{"c":7,"x":290,"y":268},{"c":7,"x":330,"y":248},{"c":7,"x":340,"y":218},{"c":7,"x":310,"y":178},{"c":7,"x":270,"y":168},{"c":7,"x":230,"y":188},
{"c":8,"x":240,"y":240},{"c":8,"x":265,"y":255},{"c":8,"x":290,"y":253},{"c":8,"x":305,"y":233},{"c":8,"x":290,"y":208},{"c":8,"x":260,"y":208},
{"c":9,"x":255,"y":238},{"c":9,"x":265,"y":248},{"c":9,"x":275,"y":236},{"c":9,"x":265,"y":223},
{"c":10,"x":410,"y":338},{"c":10,"x":440,"y":378},{"c":10,"x":480,"y":418},{"c":10,"x":510,"y":438},{"c":10,"x":520,"y":418},{"c":10,"x":490,"y":378},{"c":10,"x":450,"y":338},{"c":10,"x":420,"y":318},
{"c":11,"x":370,"y":303},{"c":11,"x":385,"y":313},{"c":11,"x":400,"y":306},{"c":11,"x":388,"y":296},
{"c":12,"x":545,"y":610},{"c":12,"x":590,"y":638},{"c":12,"x":640,"y":646},{"c":12,"x":685,"y":640},{"c":12,"x":695,"y":620},{"c":12,"x":670,"y":603},{"c":12,"x":610,"y":598},{"c":12,"x":560,"y":600},
{"c":13,"x":565,"y":620},{"c":13,"x":610,"y":635},{"c":13,"x":660,"y":638},{"c":13,"x":680,"y":626},{"c":13,"x":655,"y":610},{"c":13,"x":600,"y":608},
{"c":14,"x":600,"y":626},{"c":14,"x":630,"y":634},{"c":14,"x":655,"y":630},{"c":14,"x":640,"y":618},{"c":14,"x":610,"y":616},
{"c":15,"x":620,"y":628},{"c":15,"x":632,"y":633},{"c":15,"x":642,"y":627},{"c":15,"x":630,"y":622},
{"c":16,"x":265,"y":98},{"c":16,"x":275,"y":110},{"c":16,"x":282,"y":88},{"c":16,"x":272,"y":68},{"c":16,"x":265,"y":78},
{"c":17,"x":-20,"y":378},{"c":17,"x":20,"y":368},{"c":17,"x":35,"y":318},{"c":17,"x":32,"y":258},{"c":17,"x":15,"y":208},{"c":17,"x":-20,"y":203},
{"c":18,"x":-20,"y":358},{"c":18,"x":20,"y":348},{"c":18,"x":25,"y":298},{"c":18,"x":15,"y":248},{"c":18,"x":-20,"y":238},
{"c":40,"x":110,"y":44},{"c":40,"x":330,"y":46},{"c":40,"x":520,"y":40},{"c":40,"x":550,"y":0},{"c":40,"x":550,"y":-17},{"c":40,"x":110,"y":-17},
{"c":41,"x":111,"y":40},{"c":41,"x":320,"y":42},{"c":41,"x":500,"y":36},{"c":41,"x":530,"y":0},{"c":41,"x":530,"y":-17},{"c":41,"x":111,"y":-17},
{"c":42,"x":112,"y":36},{"c":42,"x":313,"y":38},{"c":42,"x":485,"y":32},{"c":42,"x":515,"y":0},{"c":42,"x":515,"y":-17},{"c":42,"x":112,"y":-17},
{"c":43,"x":113,"y":32},{"c":43,"x":304,"y":34},{"c":43,"x":465,"y":28},{"c":43,"x":495,"y":0},{"c":43,"x":495,"y":-17},{"c":43,"x":113,"y":-17},
{"c":44,"x":114,"y":28},{"c":44,"x":294,"y":30},{"c":44,"x":445,"y":24},{"c":44,"x":475,"y":0},{"c":44,"x":475,"y":-17},{"c":44,"x":114,"y":-17},
{"c":45,"x":115,"y":24},{"c":45,"x":282,"y":26},{"c":45,"x":420,"y":20},{"c":45,"x":450,"y":0},{"c":45,"x":450,"y":-17},{"c":45,"x":115,"y":-17},
{"c":46,"x":116,"y":20},{"c":46,"x":268,"y":22},{"c":46,"x":390,"y":16},{"c":46,"x":420,"y":0},{"c":46,"x":420,"y":-17},{"c":46,"x":116,"y":-17},
{"c":47,"x":117,"y":16},{"c":47,"x":253,"y":18},{"c":47,"x":360,"y":12},{"c":47,"x":390,"y":0},{"c":47,"x":390,"y":-17},{"c":47,"x":117,"y":-17},
{"c":48,"x":118,"y":12},{"c":48,"x":234,"y":14},{"c":48,"x":320,"y":8},{"c":48,"x":350,"y":0},{"c":48,"x":350,"y":-17},{"c":48,"x":118,"y":-17},
{"c":49,"x":119,"y":8},{"c":49,"x":209,"y":10},{"c":49,"x":270,"y":4},{"c":49,"x":300,"y":0},{"c":49,"x":300,"y":-17},{"c":49,"x":119,"y":-17}
]
},
"concat": [
{
 "title": {"text": "A", "anchor": "start", "frame": "group", "dx": -61, "dy": 25, "baseline": "top", "offset": 0},
 "width": 280, "height": 277,
 "resolve": {"axis": {"x": "independent", "y": "independent"}},
 "layer": [
  {"data": {"name": "A"}, "mark": {"type": "line", "interpolate": "cardinal-closed", "clip": true, "color": "#000", "strokeWidth": 1.1},
   "encoding": {
    "x": {"field": "x", "type": "quantitative", "scale": {"domain": [0, 840], "nice": false, "zero": false},
      "axis": {"title": "Annexin V", "orient": "bottom", "values": [87,180,380,579,767], "labelExpr": "datum.value == 87 ? '0' : datum.value == 180 ? '10²' : datum.value == 380 ? '10³' : datum.value == 579 ? '10⁴' : '10⁵'", "tickSize": 6, "offset": 3, "labelPadding": 3, "labelOverlap": false, "titleFontSize": 12.5, "titlePadding": 5}},
    "y": {"field": "y", "type": "quantitative", "scale": {"domain": [0, 830], "nice": false, "zero": false},
      "axis": {"title": "7AAD", "orient": "left", "values": [80,168,371,568,753], "labelExpr": "datum.value == 80 ? '0' : datum.value == 168 ? '10²' : datum.value == 371 ? '10³' : datum.value == 568 ? '10⁴' : '10⁵'", "tickSize": 6, "labelPadding": 2, "labelOverlap": false, "titleFontSize": 11, "titlePadding": 5}},
    "detail": {"field": "c", "type": "nominal"},
    "order": {"value": null}
   }},
  {"data": {"name": "gates"}, "transform": [{"filter": "datum.p == 'A'"}], "mark": {"type": "rule", "color": "#3358f0", "strokeWidth": 1},
   "encoding": {"x": {"field": "gx", "type": "quantitative", "axis": {"title": null, "orient": "bottom", "values": [7,14,22,29,35,42,50,62,70,76,80,83,122,130,137,145,152,162,169,175,240,275,300,320,336,349,361,371,440,475,500,520,536,549,561,571,636,669,692,710,725,738,749,759,824], "labels": false, "tickSize": 3, "offset": 3, "domain": false}}}},
  {"data": {"name": "gates"}, "transform": [{"filter": "datum.p == 'A'"}], "mark": {"type": "rule", "color": "#3358f0", "strokeWidth": 1},
   "encoding": {"y": {"field": "gy", "type": "quantitative", "axis": {"title": null, "orient": "left", "values": [7,14,22,29,36,43,50,58,65,72,76,84,88,96,103,110,118,125,133,145,155,162,229,265,290,310,326,339,351,361,430,465,490,509,525,538,549,560,624,656,679,697,712,724,735,745,809], "labels": false, "tickSize": 3, "domain": false}}}},
  {"data": {"name": "gates"}, "transform": [{"filter": "datum.p == 'A'"}], "mark": {"type": "text", "align": "left", "baseline": "alphabetic", "dx": 5, "dy": -2, "color": "#fff", "stroke": "#fff", "strokeWidth": 5},
   "encoding": {"x": {"datum": 0, "type": "quantitative", "axis": null}, "y": {"datum": 0, "type": "quantitative", "axis": null}, "text": {"field": "LL"}}},
  {"data": {"name": "gates"}, "transform": [{"filter": "datum.p == 'A'"}], "mark": {"type": "text", "align": "right", "baseline": "alphabetic", "dx": -3, "dy": -2, "color": "#fff", "stroke": "#fff", "strokeWidth": 5},
   "encoding": {"x": {"datum": 840, "type": "quantitative", "axis": null}, "y": {"datum": 0, "type": "quantitative", "axis": null}, "text": {"field": "LR"}}},
  {"data": {"name": "gates"}, "transform": [{"filter": "datum.p == 'A'"}], "mark": {"type": "text", "align": "left", "baseline": "top", "dx": 5, "dy": 4},
   "encoding": {"x": {"datum": 0, "type": "quantitative", "axis": null}, "y": {"datum": 830, "type": "quantitative", "axis": null}, "text": {"field": "UL"}}},
  {"data": {"name": "gates"}, "transform": [{"filter": "datum.p == 'A'"}], "mark": {"type": "text", "align": "right", "baseline": "top", "dx": -3, "dy": 4},
   "encoding": {"x": {"datum": 840, "type": "quantitative", "axis": null}, "y": {"datum": 830, "type": "quantitative", "axis": null}, "text": {"field": "UR"}}},
  {"data": {"name": "gates"}, "transform": [{"filter": "datum.p == 'A'"}], "mark": {"type": "text", "align": "left", "baseline": "alphabetic", "dx": 5, "dy": -2},
   "encoding": {"x": {"datum": 0, "type": "quantitative", "axis": null}, "y": {"datum": 0, "type": "quantitative", "axis": null}, "text": {"field": "LL"}}},
  {"data": {"name": "gates"}, "transform": [{"filter": "datum.p == 'A'"}], "mark": {"type": "text", "align": "right", "baseline": "alphabetic", "dx": -3, "dy": -2},
   "encoding": {"x": {"datum": 840, "type": "quantitative", "axis": null}, "y": {"datum": 0, "type": "quantitative", "axis": null}, "text": {"field": "LR"}}}
 ]
},
{
 "title": {"text": "B", "anchor": "start", "frame": "group", "dx": -53, "dy": 25, "baseline": "top", "offset": 0},
 "width": 280, "height": 277,
 "resolve": {"axis": {"x": "independent", "y": "independent"}},
 "layer": [
  {"data": {"name": "B"}, "mark": {"type": "line", "interpolate": "cardinal-closed", "clip": true, "color": "#000", "strokeWidth": 1.1},
   "encoding": {
    "x": {"field": "x", "type": "quantitative", "scale": {"domain": [0, 840], "nice": false, "zero": false},
      "axis": {"title": "Annexin V", "orient": "bottom", "values": [87,180,380,579,767], "labelExpr": "datum.value == 87 ? '0' : datum.value == 180 ? '10²' : datum.value == 380 ? '10³' : datum.value == 579 ? '10⁴' : '10⁵'", "tickSize": 6, "offset": 3, "labelPadding": 3, "labelOverlap": false, "titleFontSize": 12.5, "titlePadding": 5}},
    "y": {"field": "y", "type": "quantitative", "scale": {"domain": [0, 830], "nice": false, "zero": false},
      "axis": {"title": "7AAD", "orient": "left", "values": [80,168,371,568,753], "labelExpr": "datum.value == 80 ? '0' : datum.value == 168 ? '10²' : datum.value == 371 ? '10³' : datum.value == 568 ? '10⁴' : '10⁵'", "tickSize": 6, "labelPadding": 2, "labelOverlap": false, "titleFontSize": 11, "titlePadding": 5}},
    "detail": {"field": "c", "type": "nominal"},
    "order": {"value": null}
   }},
  {"data": {"name": "gates"}, "transform": [{"filter": "datum.p == 'B'"}], "mark": {"type": "rule", "color": "#3358f0", "strokeWidth": 1},
   "encoding": {"x": {"field": "gx", "type": "quantitative", "axis": {"title": null, "orient": "bottom", "values": [7,14,22,29,35,42,50,62,70,76,80,83,122,130,137,145,152,162,169,175,240,275,300,320,336,349,361,371,440,475,500,520,536,549,561,571,636,669,692,710,725,738,749,759,824], "labels": false, "tickSize": 3, "offset": 3, "domain": false}}}},
  {"data": {"name": "gates"}, "transform": [{"filter": "datum.p == 'B'"}], "mark": {"type": "rule", "color": "#3358f0", "strokeWidth": 1},
   "encoding": {"y": {"field": "gy", "type": "quantitative", "axis": {"title": null, "orient": "left", "values": [7,14,22,29,36,43,50,58,65,72,76,84,88,96,103,110,118,125,133,145,155,162,229,265,290,310,326,339,351,361,430,465,490,509,525,538,549,560,624,656,679,697,712,724,735,745,809], "labels": false, "tickSize": 3, "domain": false}}}},
  {"data": {"name": "gates"}, "transform": [{"filter": "datum.p == 'B'"}], "mark": {"type": "text", "align": "left", "baseline": "alphabetic", "dx": 5, "dy": -2, "color": "#fff", "stroke": "#fff", "strokeWidth": 5},
   "encoding": {"x": {"datum": 0, "type": "quantitative", "axis": null}, "y": {"datum": 0, "type": "quantitative", "axis": null}, "text": {"field": "LL"}}},
  {"data": {"name": "gates"}, "transform": [{"filter": "datum.p == 'B'"}], "mark": {"type": "text", "align": "right", "baseline": "alphabetic", "dx": -3, "dy": -2, "color": "#fff", "stroke": "#fff", "strokeWidth": 5},
   "encoding": {"x": {"datum": 840, "type": "quantitative", "axis": null}, "y": {"datum": 0, "type": "quantitative", "axis": null}, "text": {"field": "LR"}}},
  {"data": {"name": "gates"}, "transform": [{"filter": "datum.p == 'B'"}], "mark": {"type": "text", "align": "left", "baseline": "top", "dx": 5, "dy": 4},
   "encoding": {"x": {"datum": 0, "type": "quantitative", "axis": null}, "y": {"datum": 830, "type": "quantitative", "axis": null}, "text": {"field": "UL"}}},
  {"data": {"name": "gates"}, "transform": [{"filter": "datum.p == 'B'"}], "mark": {"type": "text", "align": "right", "baseline": "top", "dx": -3, "dy": 4},
   "encoding": {"x": {"datum": 840, "type": "quantitative", "axis": null}, "y": {"datum": 830, "type": "quantitative", "axis": null}, "text": {"field": "UR"}}},
  {"data": {"name": "gates"}, "transform": [{"filter": "datum.p == 'B'"}], "mark": {"type": "text", "align": "left", "baseline": "alphabetic", "dx": 5, "dy": -2},
   "encoding": {"x": {"datum": 0, "type": "quantitative", "axis": null}, "y": {"datum": 0, "type": "quantitative", "axis": null}, "text": {"field": "LL"}}},
  {"data": {"name": "gates"}, "transform": [{"filter": "datum.p == 'B'"}], "mark": {"type": "text", "align": "right", "baseline": "alphabetic", "dx": -3, "dy": -2},
   "encoding": {"x": {"datum": 840, "type": "quantitative", "axis": null}, "y": {"datum": 0, "type": "quantitative", "axis": null}, "text": {"field": "LR"}}}
 ]
},
{
 "title": {"text": "C", "anchor": "start", "frame": "group", "dx": -63, "dy": 25, "baseline": "top", "offset": 0},
 "width": 280, "height": 277,
 "resolve": {"axis": {"x": "independent", "y": "independent"}},
 "layer": [
  {"data": {"name": "C"}, "mark": {"type": "line", "interpolate": "cardinal-closed", "clip": true, "color": "#000", "strokeWidth": 1.1},
   "encoding": {
    "x": {"field": "x", "type": "quantitative", "scale": {"domain": [0, 840], "nice": false, "zero": false},
      "axis": {"title": "Annexin V", "orient": "bottom", "values": [87,180,380,579,767], "labelExpr": "datum.value == 87 ? '0' : datum.value == 180 ? '10²' : datum.value == 380 ? '10³' : datum.value == 579 ? '10⁴' : '10⁵'", "tickSize": 6, "offset": 3, "labelPadding": 3, "labelOverlap": false, "titleFontSize": 12.5, "titlePadding": 5}},
    "y": {"field": "y", "type": "quantitative", "scale": {"domain": [0, 830], "nice": false, "zero": false},
      "axis": {"title": "7AAD", "orient": "left", "values": [80,168,371,568,753], "labelExpr": "datum.value == 80 ? '0' : datum.value == 168 ? '10²' : datum.value == 371 ? '10³' : datum.value == 568 ? '10⁴' : '10⁵'", "tickSize": 6, "labelPadding": 2, "labelOverlap": false, "titleFontSize": 11, "titlePadding": 5}},
    "detail": {"field": "c", "type": "nominal"},
    "order": {"value": null}
   }},
  {"data": {"name": "gates"}, "transform": [{"filter": "datum.p == 'C'"}], "mark": {"type": "rule", "color": "#3358f0", "strokeWidth": 1},
   "encoding": {"x": {"field": "gx", "type": "quantitative", "axis": {"title": null, "orient": "bottom", "values": [7,14,22,29,35,42,50,62,70,76,80,83,122,130,137,145,152,162,169,175,240,275,300,320,336,349,361,371,440,475,500,520,536,549,561,571,636,669,692,710,725,738,749,759,824], "labels": false, "tickSize": 3, "offset": 3, "domain": false}}}},
  {"data": {"name": "gates"}, "transform": [{"filter": "datum.p == 'C'"}], "mark": {"type": "rule", "color": "#3358f0", "strokeWidth": 1},
   "encoding": {"y": {"field": "gy", "type": "quantitative", "axis": {"title": null, "orient": "left", "values": [7,14,22,29,36,43,50,58,65,72,76,84,88,96,103,110,118,125,133,145,155,162,229,265,290,310,326,339,351,361,430,465,490,509,525,538,549,560,624,656,679,697,712,724,735,745,809], "labels": false, "tickSize": 3, "domain": false}}}},
  {"data": {"name": "gates"}, "transform": [{"filter": "datum.p == 'C'"}], "mark": {"type": "text", "align": "left", "baseline": "alphabetic", "dx": 5, "dy": -2, "color": "#fff", "stroke": "#fff", "strokeWidth": 5},
   "encoding": {"x": {"datum": 0, "type": "quantitative", "axis": null}, "y": {"datum": 0, "type": "quantitative", "axis": null}, "text": {"field": "LL"}}},
  {"data": {"name": "gates"}, "transform": [{"filter": "datum.p == 'C'"}], "mark": {"type": "text", "align": "right", "baseline": "alphabetic", "dx": -3, "dy": -2, "color": "#fff", "stroke": "#fff", "strokeWidth": 5},
   "encoding": {"x": {"datum": 840, "type": "quantitative", "axis": null}, "y": {"datum": 0, "type": "quantitative", "axis": null}, "text": {"field": "LR"}}},
  {"data": {"name": "gates"}, "transform": [{"filter": "datum.p == 'C'"}], "mark": {"type": "text", "align": "left", "baseline": "top", "dx": 5, "dy": 4},
   "encoding": {"x": {"datum": 0, "type": "quantitative", "axis": null}, "y": {"datum": 830, "type": "quantitative", "axis": null}, "text": {"field": "UL"}}},
  {"data": {"name": "gates"}, "transform": [{"filter": "datum.p == 'C'"}], "mark": {"type": "text", "align": "right", "baseline": "top", "dx": -3, "dy": 4},
   "encoding": {"x": {"datum": 840, "type": "quantitative", "axis": null}, "y": {"datum": 830, "type": "quantitative", "axis": null}, "text": {"field": "UR"}}},
  {"data": {"name": "gates"}, "transform": [{"filter": "datum.p == 'C'"}], "mark": {"type": "text", "align": "left", "baseline": "alphabetic", "dx": 5, "dy": -2},
   "encoding": {"x": {"datum": 0, "type": "quantitative", "axis": null}, "y": {"datum": 0, "type": "quantitative", "axis": null}, "text": {"field": "LL"}}},
  {"data": {"name": "gates"}, "transform": [{"filter": "datum.p == 'C'"}], "mark": {"type": "text", "align": "right", "baseline": "alphabetic", "dx": -3, "dy": -2},
   "encoding": {"x": {"datum": 840, "type": "quantitative", "axis": null}, "y": {"datum": 0, "type": "quantitative", "axis": null}, "text": {"field": "LR"}}}
 ]
},
{
 "title": {"text": "D", "anchor": "start", "frame": "group", "dx": -53, "dy": 25, "baseline": "top", "offset": 0},
 "width": 280, "height": 277,
 "resolve": {"axis": {"x": "independent", "y": "independent"}},
 "layer": [
  {"data": {"name": "D"}, "mark": {"type": "line", "interpolate": "cardinal-closed", "clip": true, "color": "#000", "strokeWidth": 1.1},
   "encoding": {
    "x": {"field": "x", "type": "quantitative", "scale": {"domain": [0, 840], "nice": false, "zero": false},
      "axis": {"title": "Annexin V", "orient": "bottom", "values": [87,180,380,579,767], "labelExpr": "datum.value == 87 ? '0' : datum.value == 180 ? '10²' : datum.value == 380 ? '10³' : datum.value == 579 ? '10⁴' : '10⁵'", "tickSize": 6, "offset": 3, "labelPadding": 3, "labelOverlap": false, "titleFontSize": 12.5, "titlePadding": 5}},
    "y": {"field": "y", "type": "quantitative", "scale": {"domain": [0, 830], "nice": false, "zero": false},
      "axis": {"title": "7AAD", "orient": "left", "values": [80,168,371,568,753], "labelExpr": "datum.value == 80 ? '0' : datum.value == 168 ? '10²' : datum.value == 371 ? '10³' : datum.value == 568 ? '10⁴' : '10⁵'", "tickSize": 6, "labelPadding": 2, "labelOverlap": false, "titleFontSize": 11, "titlePadding": 5}},
    "detail": {"field": "c", "type": "nominal"},
    "order": {"value": null}
   }},
  {"data": {"name": "gates"}, "transform": [{"filter": "datum.p == 'D'"}], "mark": {"type": "rule", "color": "#3358f0", "strokeWidth": 1},
   "encoding": {"x": {"field": "gx", "type": "quantitative", "axis": {"title": null, "orient": "bottom", "values": [7,14,22,29,35,42,50,62,70,76,80,83,122,130,137,145,152,162,169,175,240,275,300,320,336,349,361,371,440,475,500,520,536,549,561,571,636,669,692,710,725,738,749,759,824], "labels": false, "tickSize": 3, "offset": 3, "domain": false}}}},
  {"data": {"name": "gates"}, "transform": [{"filter": "datum.p == 'D'"}], "mark": {"type": "rule", "color": "#3358f0", "strokeWidth": 1},
   "encoding": {"y": {"field": "gy", "type": "quantitative", "axis": {"title": null, "orient": "left", "values": [7,14,22,29,36,43,50,58,65,72,76,84,88,96,103,110,118,125,133,145,155,162,229,265,290,310,326,339,351,361,430,465,490,509,525,538,549,560,624,656,679,697,712,724,735,745,809], "labels": false, "tickSize": 3, "domain": false}}}},
  {"data": {"name": "gates"}, "transform": [{"filter": "datum.p == 'D'"}], "mark": {"type": "text", "align": "left", "baseline": "alphabetic", "dx": 5, "dy": -2, "color": "#fff", "stroke": "#fff", "strokeWidth": 5},
   "encoding": {"x": {"datum": 0, "type": "quantitative", "axis": null}, "y": {"datum": 0, "type": "quantitative", "axis": null}, "text": {"field": "LL"}}},
  {"data": {"name": "gates"}, "transform": [{"filter": "datum.p == 'D'"}], "mark": {"type": "text", "align": "right", "baseline": "alphabetic", "dx": -3, "dy": -2, "color": "#fff", "stroke": "#fff", "strokeWidth": 5},
   "encoding": {"x": {"datum": 840, "type": "quantitative", "axis": null}, "y": {"datum": 0, "type": "quantitative", "axis": null}, "text": {"field": "LR"}}},
  {"data": {"name": "gates"}, "transform": [{"filter": "datum.p == 'D'"}], "mark": {"type": "text", "align": "left", "baseline": "top", "dx": 5, "dy": 4},
   "encoding": {"x": {"datum": 0, "type": "quantitative", "axis": null}, "y": {"datum": 830, "type": "quantitative", "axis": null}, "text": {"field": "UL"}}},
  {"data": {"name": "gates"}, "transform": [{"filter": "datum.p == 'D'"}], "mark": {"type": "text", "align": "right", "baseline": "top", "dx": -3, "dy": 4},
   "encoding": {"x": {"datum": 840, "type": "quantitative", "axis": null}, "y": {"datum": 830, "type": "quantitative", "axis": null}, "text": {"field": "UR"}}},
  {"data": {"name": "gates"}, "transform": [{"filter": "datum.p == 'D'"}], "mark": {"type": "text", "align": "left", "baseline": "alphabetic", "dx": 5, "dy": -2},
   "encoding": {"x": {"datum": 0, "type": "quantitative", "axis": null}, "y": {"datum": 0, "type": "quantitative", "axis": null}, "text": {"field": "LL"}}},
  {"data": {"name": "gates"}, "transform": [{"filter": "datum.p == 'D'"}], "mark": {"type": "text", "align": "right", "baseline": "alphabetic", "dx": -3, "dy": -2},
   "encoding": {"x": {"datum": 840, "type": "quantitative", "axis": null}, "y": {"datum": 0, "type": "quantitative", "axis": null}, "text": {"field": "LR"}}}
 ]
}
],
"columns": 2,
"spacing": {"row": 15, "column": 406}
}
